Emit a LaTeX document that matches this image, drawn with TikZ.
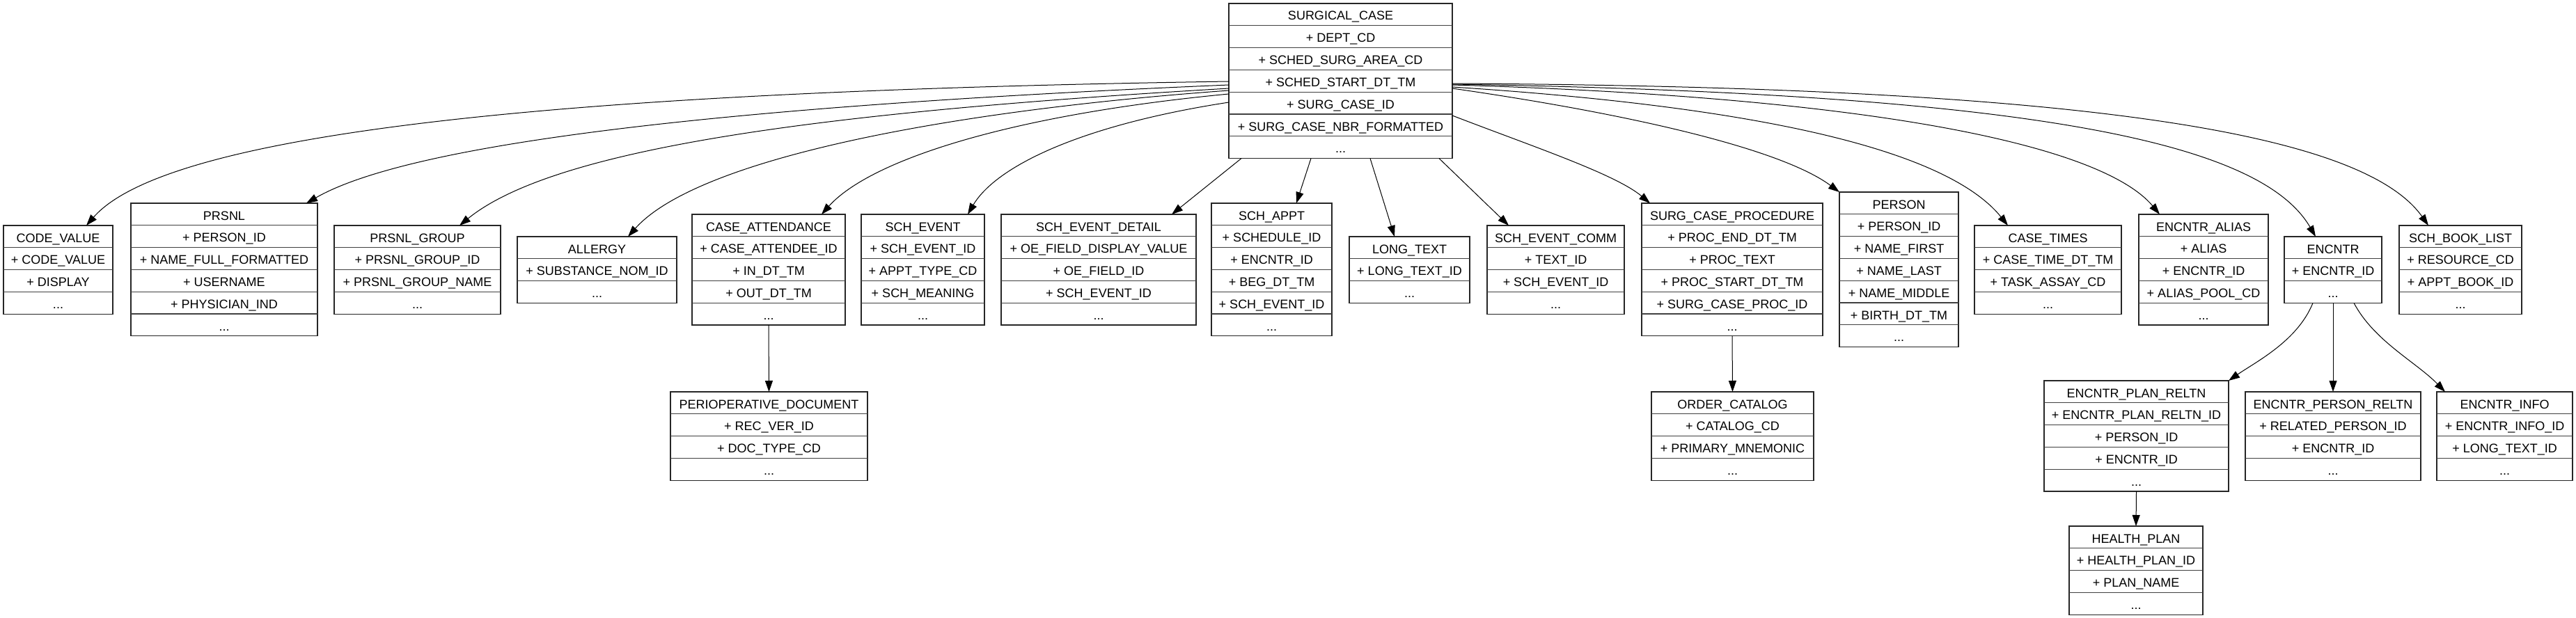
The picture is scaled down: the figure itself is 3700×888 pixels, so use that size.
\documentclass[tikz,border=0pt]{standalone}
\usepackage{fontspec}
\setmainfont{Liberation Sans}
\usetikzlibrary{calc,arrows.meta}
\tikzset{
  entbox/.style={draw=black!85, line width=1.3pt, inner sep=0pt, outer sep=0pt, fill=white},
  rowtxt/.style={anchor=base, inner sep=0pt, font=\fontsize{18}{20}\selectfont},
  sepline/.style={draw=black!75, line width=1.3pt},
  edge/.style={draw=black, line width=1pt, -{Triangle[length=16pt,width=11pt]}}
}
\newcommand\erdots{...}
\newcommand\erent[6]{%
  \node[entbox, minimum width=#4pt, minimum height=#5*31.8pt, anchor=north west] (#1) at (#2,#3) {};
  \foreach \txt [count=\i] in {#6} {
    \node[rowtxt] at (#2+#4/2, #3+\i*31.8-31.8+24) {\txt};
    \ifnum\i<#5 \draw[sepline] (#2,#3+\i*31.8) -- (#2+#4,#3+\i*31.8);\fi
  }
}
\begin{document}
\begin{tikzpicture}[x=1pt,y=-1pt]
\useasboundingbox (0,0) rectangle (3700,888);
\erent{sc}{1765}{5}{321}{7}{SURGICAL\_CASE,+ DEPT\_CD,+ SCHED\_SURG\_AREA\_CD,+ SCHED\_START\_DT\_TM,+ SURG\_CASE\_ID,+ SURG\_CASE\_NBR\_FORMATTED,\erdots}
\erent{cv}{5}{324}{157}{4}{CODE\_VALUE,+ CODE\_VALUE,+ DISPLAY,\erdots}
\erent{prsnl}{188}{292}{268}{6}{PRSNL,+ PERSON\_ID,+ NAME\_FULL\_FORMATTED,+ USERNAME,+ PHYSICIAN\_IND,\erdots}
\erent{pg}{480}{324}{239}{4}{PRSNL\_GROUP,+ PRSNL\_GROUP\_ID,+ PRSNL\_GROUP\_NAME,\erdots}
\erent{allergy}{743}{340}{229}{3}{ALLERGY,+ SUBSTANCE\_NOM\_ID,\erdots}
\erent{ca}{994}{308}{220}{5}{CASE\_ATTENDANCE,+ CASE\_ATTENDEE\_ID,+ IN\_DT\_TM,+ OUT\_DT\_TM,\erdots}
\erent{se}{1237}{308}{177}{5}{SCH\_EVENT,+ SCH\_EVENT\_ID,+ APPT\_TYPE\_CD,+ SCH\_MEANING,\erdots}
\erent{sed}{1438}{308}{280}{5}{SCH\_EVENT\_DETAIL,+ OE\_FIELD\_DISPLAY\_VALUE,+ OE\_FIELD\_ID,+ SCH\_EVENT\_ID,\erdots}
\erent{sa}{1740}{292}{173}{6}{SCH\_APPT,+ SCHEDULE\_ID,+ ENCNTR\_ID,+ BEG\_DT\_TM,+ SCH\_EVENT\_ID,\erdots}
\erent{lt}{1938}{340}{173}{3}{LONG\_TEXT,+ LONG\_TEXT\_ID,\erdots}
\erent{sec}{2136}{324}{197}{4}{SCH\_EVENT\_COMM,+ TEXT\_ID,+ SCH\_EVENT\_ID,\erdots}
\erent{scp}{2358}{292}{260}{6}{SURG\_CASE\_PROCEDURE,+ PROC\_END\_DT\_TM,+ PROC\_TEXT,+ PROC\_START\_DT\_TM,+ SURG\_CASE\_PROC\_ID,\erdots}
\erent{person}{2642}{276}{171}{7}{PERSON,+ PERSON\_ID,+ NAME\_FIRST,+ NAME\_LAST,+ NAME\_MIDDLE,+ BIRTH\_DT\_TM,\erdots}
\erent{ct}{2836}{324}{211}{4}{CASE\_TIMES,+ CASE\_TIME\_DT\_TM,+ TASK\_ASSAY\_CD,\erdots}
\erent{ea}{3072}{308}{186}{5}{ENCNTR\_ALIAS,+ ALIAS,+ ENCNTR\_ID,+ ALIAS\_POOL\_CD,\erdots}
\erent{enc}{3281}{340}{140}{3}{ENCNTR,+ ENCNTR\_ID,\erdots}
\erent{sbl}{3446}{324}{176}{4}{SCH\_BOOK\_LIST,+ RESOURCE\_CD,+ APPT\_BOOK\_ID,\erdots}
\erent{pd}{963}{563}{283}{4}{PERIOPERATIVE\_DOCUMENT,+ REC\_VER\_ID,+ DOC\_TYPE\_CD,\erdots}
\erent{oc}{2372}{563}{233}{4}{ORDER\_CATALOG,+ CATALOG\_CD,+ PRIMARY\_MNEMONIC,\erdots}
\erent{epr}{2936}{547}{265}{5}{ENCNTR\_PLAN\_RELTN,+ ENCNTR\_PLAN\_RELTN\_ID,+ PERSON\_ID,+ ENCNTR\_ID,\erdots}
\erent{eper}{3225}{563}{252}{4}{ENCNTR\_PERSON\_RELTN,+ RELATED\_PERSON\_ID,+ ENCNTR\_ID,\erdots}
\erent{ei}{3500}{563}{195}{4}{ENCNTR\_INFO,+ ENCNTR\_INFO\_ID,+ LONG\_TEXT\_ID,\erdots}
\erent{hp}{2972}{756}{192}{4}{HEALTH\_PLAN,+ HEALTH\_PLAN\_ID,+ PLAN\_NAME,\erdots}
% edges from SURGICAL_CASE, left side
\draw[edge] ($(sc.north west)+(0,112)$) .. controls (900,130) and (250,180) .. ($(cv.north west)+(119,0)$);
\draw[edge] ($(sc.north west)+(0,117)$) .. controls (1100,150) and (600,200) .. ($(prsnl.north east)+(-16,0)$);
\draw[edge] ($(sc.north west)+(0,122)$) .. controls (1200,160) and (800,210) .. ($(pg.north west)+(180,0)$);
\draw[edge] ($(sc.north west)+(0,125)$) .. controls (1350,160) and (1000,230) .. ($(allergy.north west)+(159,0)$);
\draw[edge] ($(sc.north west)+(0,130)$) .. controls (1450,165) and (1250,230) .. ($(ca.north west)+(186,0)$);
\draw[edge] ($(sc.north west)+(0,142)$) .. controls (1550,180) and (1430,240) .. ($(se.north west)+(153,0)$);
% bottom
\draw[edge] ($(sc.south west)+(18,0)$) -- ($(sed.north west)+(245,0)$);
\draw[edge] ($(sc.south west)+(118,0)$) -- ($(sa.north west)+(122,0)$);
\draw[edge] ($(sc.south west)+(203,0)$) -- ($(lt.north west)+(65,0)$);
\draw[edge] ($(sc.south west)+(302,0)$) -- ($(sec.north west)+(31,0)$);
% right side
\draw[edge] ($(sc.north east)+(0,161)$) .. controls (2200,210) and (2320,250) .. ($(scp.north west)+(12,0)$);
\draw[edge] ($(sc.north east)+(0,122)$) .. controls (2350,165) and (2560,215) .. (person.north west);
\draw[edge] ($(sc.north east)+(0,120)$) .. controls (2550,155) and (2800,220) .. ($(ct.north west)+(48,0)$);
\draw[edge] ($(sc.north east)+(0,117)$) .. controls (2700,140) and (3020,210) .. ($(ea.north west)+(30,0)$);
\draw[edge] ($(sc.north east)+(0,116)$) .. controls (2950,135) and (3250,210) .. ($(enc.north west)+(45,0)$);
\draw[edge] ($(sc.north east)+(0,115)$) .. controls (3050,125) and (3400,200) .. ($(sbl.north west)+(42,0)$);
% lower ranks
\draw[edge] (ca.south) -- (pd.north);
\draw[edge] (scp.south) -- (oc.north);
\draw[edge] ($(enc.south west)+(41,0)$) .. controls (3300,490) and (3240,520) .. (epr.north east);
\draw[edge] (enc.south) -- (eper.north);
\draw[edge] ($(enc.south west)+(100,0)$) .. controls (3410,490) and (3470,520) .. ($(ei.north west)+(12,0)$);
\draw[edge] (epr.south) -- (hp.north);
\end{tikzpicture}
\end{document}
